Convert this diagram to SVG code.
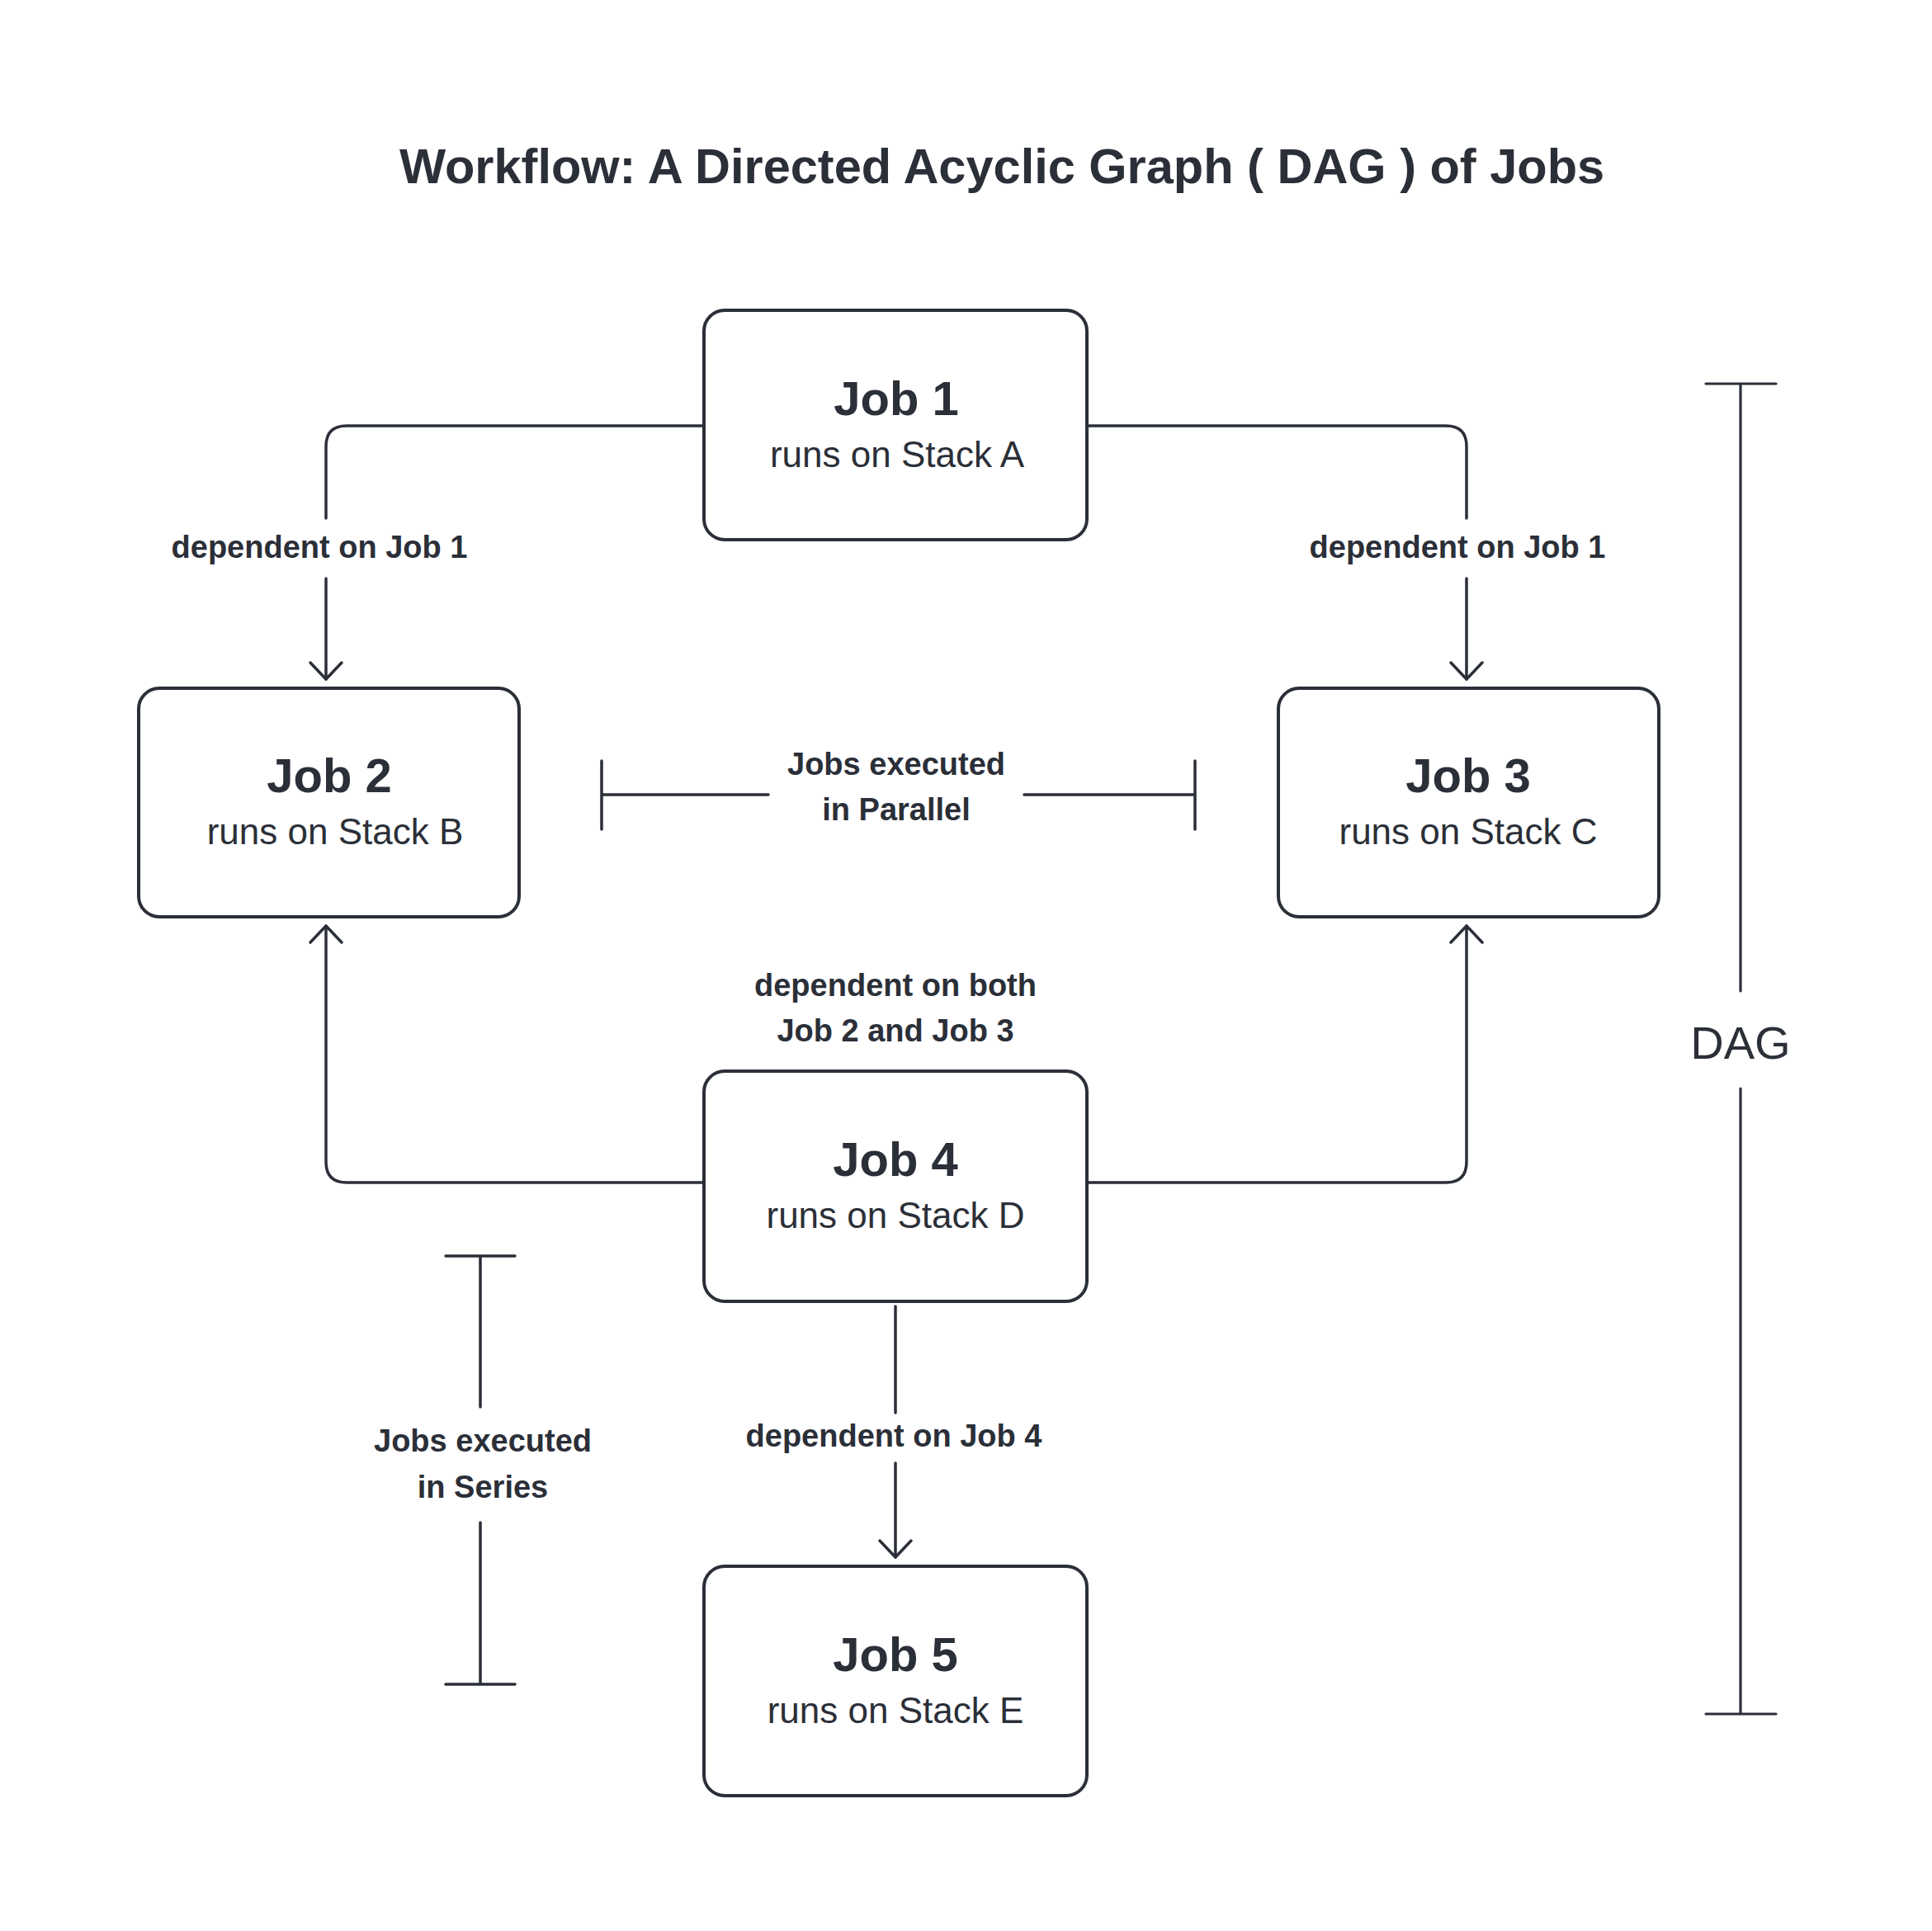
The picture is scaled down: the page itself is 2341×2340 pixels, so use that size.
<svg xmlns="http://www.w3.org/2000/svg" width="2341" height="2340" viewBox="0 0 2341 2340">
  <style>
    .bg { fill: #ffffff; }
    .box { fill: #ffffff; stroke: #2b2f38; stroke-width: 4; }
    .ln { fill: none; stroke: #2b2f38; stroke-width: 3.5; stroke-linecap: round; stroke-linejoin: round; }
    .thin { fill: none; stroke: #2b2f38; stroke-width: 3.2; stroke-linecap: round; }
    .title { font-family: "Liberation Sans", Arial, sans-serif; font-weight: 700; font-size: 59.5px; fill: #2b2f38; text-anchor: middle; }
    .jt { font-family: "Liberation Sans", Arial, sans-serif; font-weight: 700; font-size: 58px; fill: #2b2f38; text-anchor: middle; }
    .js { font-family: "Liberation Sans", Arial, sans-serif; font-weight: 400; font-size: 44px; fill: #2b2f38; text-anchor: middle; }
    .lbl { font-family: "Liberation Sans", Arial, sans-serif; font-weight: 700; font-size: 38px; fill: #2b2f38; text-anchor: middle; }
    .dag { font-family: "Liberation Sans", Arial, sans-serif; font-weight: 400; font-size: 56px; fill: #2b2f38; text-anchor: middle; }
  </style>
  <defs>
    <marker id="arr" viewBox="-24 -24 28 48" refX="0" refY="0" markerWidth="28" markerHeight="48" markerUnits="userSpaceOnUse" orient="auto" overflow="visible">
      <path d="M-20,-19 L0,0 L-20,19" fill="none" stroke="#2b2f38" stroke-width="3.5" stroke-linecap="round" stroke-linejoin="round"/>
    </marker>
  </defs>
  <rect class="bg" x="0" y="0" width="2341" height="2340"/>

  <text id="title" class="title" x="1214" y="222">Workflow: A Directed Acyclic Graph ( DAG ) of Jobs</text>

  <g id="connectors">
    <g id="c-job1-job2">
      <path class="ln" d="M853,516 H420 Q395,516 395,541 V628"/>
      <path class="ln" d="M395,701 V823" marker-end="url(#arr)"/>
      <text class="lbl" x="387" y="676">dependent on Job 1</text>
    </g>
    <g id="c-job1-job3">
      <path class="ln" d="M1317,516 H1752 Q1777,516 1777,541 V628"/>
      <path class="ln" d="M1777,701 V823" marker-end="url(#arr)"/>
      <text class="lbl" x="1766" y="676">dependent on Job 1</text>
    </g>
    <g id="c-job4-job2">
      <path class="ln" d="M853,1433 H420 Q395,1433 395,1408 V1122" marker-end="url(#arr)"/>
    </g>
    <g id="c-job4-job3">
      <path class="ln" d="M1317,1433 H1752 Q1777,1433 1777,1408 V1122" marker-end="url(#arr)"/>
    </g>
    <g id="c-job4-label">
      <text class="lbl" x="1085" y="1207">dependent on both</text>
      <text class="lbl" x="1085" y="1262">Job 2 and Job 3</text>
    </g>
    <g id="c-job4-job5">
      <path class="ln" d="M1085,1583 V1712"/>
      <path class="ln" d="M1085,1773 V1887" marker-end="url(#arr)"/>
      <text class="lbl" x="1083" y="1753">dependent on Job 4</text>
    </g>
    <g id="bracket-parallel">
      <path class="ln" d="M729,922 V1005 M729,963 H931 M1241,963 H1448 M1448,922 V1005"/>
      <text class="lbl" x="1086" y="939">Jobs executed</text>
      <text class="lbl" x="1086" y="994">in Parallel</text>
    </g>
    <g id="bracket-series">
      <path class="ln" d="M540,1522 H624 M582,1522 V1705 M582,1845 V2041 M540,2041 H624"/>
      <text class="lbl" x="585" y="1759">Jobs executed</text>
      <text class="lbl" x="585" y="1815">in Series</text>
    </g>
    <g id="bracket-dag">
      <path class="thin" d="M2067,465 H2152 M2109,465 V1201 M2109,1319 V2077 M2067,2077 H2152"/>
      <text class="dag" x="2109" y="1283">DAG</text>
    </g>
  </g>

  <g id="job1">
    <rect class="box" x="853" y="376" width="464" height="278" rx="25"/>
    <text class="jt" x="1086" y="503">Job 1</text>
    <text class="js" x="1087" y="566">runs on Stack A</text>
  </g>
  <g id="job2">
    <rect class="box" x="168" y="834" width="461" height="277" rx="25"/>
    <text class="jt" x="399" y="960">Job 2</text>
    <text class="js" x="406" y="1023">runs on Stack B</text>
  </g>
  <g id="job3">
    <rect class="box" x="1549" y="834" width="461" height="277" rx="25"/>
    <text class="jt" x="1779" y="960">Job 3</text>
    <text class="js" x="1779" y="1023">runs on Stack C</text>
  </g>
  <g id="job4">
    <rect class="box" x="853" y="1298" width="464" height="279" rx="25"/>
    <text class="jt" x="1085" y="1425">Job 4</text>
    <text class="js" x="1085" y="1488">runs on Stack D</text>
  </g>
  <g id="job5">
    <rect class="box" x="853" y="1898" width="464" height="278" rx="25"/>
    <text class="jt" x="1085" y="2025">Job 5</text>
    <text class="js" x="1085" y="2088">runs on Stack E</text>
  </g>
</svg>
